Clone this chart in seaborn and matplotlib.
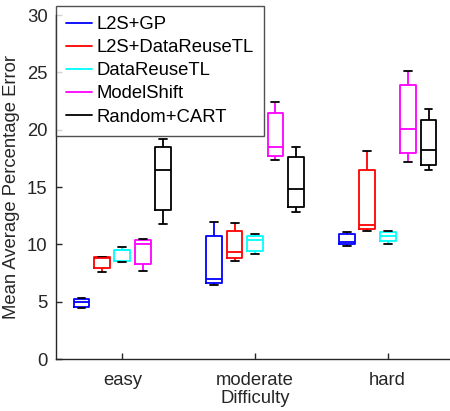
import numpy as np
import pandas as pd
import matplotlib
matplotlib.use("Agg")
import matplotlib.pyplot as plt
from matplotlib.lines import Line2D
import seaborn as sns

difficulties = ["easy", "moderate", "hard"]
methods = ["L2S+GP", "L2S+DataReuseTL", "DataReuseTL", "ModelShift", "Random+CART"]
colors = ["#0000FF", "#FF0000", "#00FFFF", "#FF00FF", "#000000"]

# each box: [min, q1, median, q3, max]
l2s_gp = {
    "easy": [4.47, 4.56, 4.94, 5.2, 5.35],
    "moderate": [6.42, 6.63, 6.97, 10.7, 11.94],
    "hard": [9.85, 10.0, 10.23, 10.87, 11.07],
}
l2s_reuse = {
    "easy": [7.58, 7.93, 8.85, 8.9, 8.92],
    "moderate": [8.54, 8.78, 9.3, 11.16, 11.83],
    "hard": [11.19, 11.33, 11.68, 16.5, 18.13],
}
reuse = {
    "easy": [8.49, 8.54, 9.5, 9.53, 9.79],
    "moderate": [9.13, 9.42, 10.4, 10.75, 10.9],
    "hard": [10.05, 10.26, 10.75, 11.07, 11.16],
}
model_shift = {
    "easy": [7.67, 8.25, 10.03, 10.35, 10.46],
    "moderate": [17.38, 17.67, 18.48, 21.42, 22.38],
    "hard": [17.17, 17.93, 20.08, 23.86, 25.1],
}
random_cart = {
    "easy": [11.8, 12.96, 16.48, 18.5, 19.18],
    "moderate": [12.79, 13.28, 14.82, 17.58, 18.51],
    "hard": [16.5, 16.94, 18.19, 20.86, 21.8],
}
series = [l2s_gp, l2s_reuse, reuse, model_shift, random_cart]

rows = []
for m, s in zip(methods, series):
    for d in difficulties:
        for v in s[d]:
            rows.append({"Difficulty": d, "Method": m, "Error": v})
df = pd.DataFrame(rows)

sns.set_style("white")
plt.rcParams["font.family"] = ["Liberation Sans", "DejaVu Sans"]
txt = "#262626"
fs = 13.3

fig = plt.figure(figsize=(4.5, 4.11), dpi=100)
ax = fig.add_axes([56 / 450, 1 - 359 / 411, 398 / 450, 344 / 411])

sns.boxplot(
    data=df, x="Difficulty", y="Error", hue="Method",
    order=difficulties, hue_order=methods, palette=colors,
    fill=False, whis=(0, 100), width=0.77, gap=0.23,
    linewidth=1.3, legend=False, ax=ax,
    capprops={"color": "black"},
)

ax.set_xlim(-0.5, 2.5)
ax.set_ylim(0, 30)
ax.set_yticks([0, 5, 10, 15, 20, 25, 30])
for sp in ["top", "right"]:
    ax.spines[sp].set_visible(False)
for sp in ["left", "bottom"]:
    ax.spines[sp].set_color(txt)
    ax.spines[sp].set_linewidth(1.0)
ax.tick_params(bottom=True, left=True, direction="in", length=4, width=1,
               colors=txt, labelsize=fs)
ax.tick_params(axis="x", pad=9)
ax.tick_params(axis="y", pad=6)
ax.set_xlabel("Difficulty", fontsize=fs, color=txt, labelpad=1)
ax.set_ylabel("Mean Average Percentage Error", fontsize=fs, color=txt, labelpad=5)

handles = [Line2D([0], [0], color=c, lw=1.3) for c in colors]
leg = ax.legend(handles, methods, loc="upper left",
                bbox_to_anchor=(0, 1 + 9 / 344), fontsize=fs,
                frameon=True, fancybox=False, handlelength=1.4,
                handletextpad=0.25, labelspacing=0.33, borderpad=0.55,
                borderaxespad=0)
leg.get_frame().set_edgecolor(txt)
leg.get_frame().set_linewidth(1.0)
for t in leg.get_texts():
    t.set_color("black")

fig.savefig("out.png", dpi=100)
